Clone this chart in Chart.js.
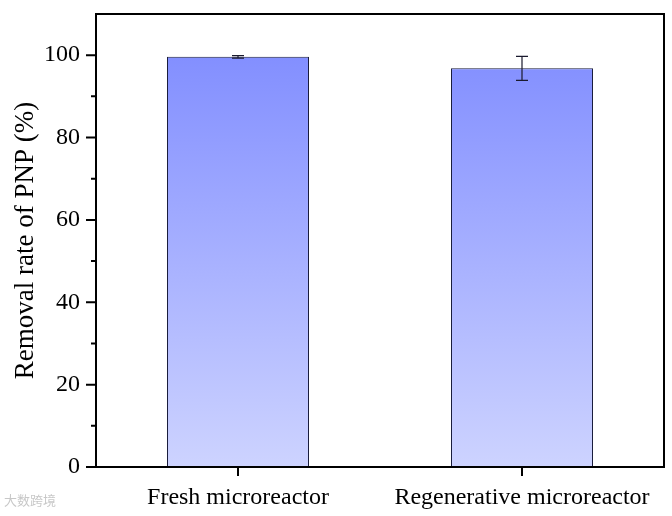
<!DOCTYPE html>
<html>
<head>
<meta charset="utf-8">
<script src="https://cdn.jsdelivr.net/npm/chart.js@4.4.0/dist/chart.umd.min.js"></script>
<style>
  body { margin: 0; background: #fff; }
  #wrap { position: relative; width: 672px; height: 516px; }
  #mark { position: absolute; left: 4px; top: 490px; font: 13px "Noto Sans CJK SC"; color: #c8c8c8; }
</style>
</head>
<body>
<div id="wrap">
  <canvas id="barChart" width="672" height="516"></canvas>
  <span id="mark">大数跨境</span>
</div>
<script>
const categories = ['Fresh microreactor', 'Regenerative microreactor'];
const removalRate = [99.6, 96.8];
const errors = [0.3, 2.9];
const yTicks = [0, 20, 40, 60, 80, 100];
const yMinorTicks = [10, 30, 50, 70, 90];

const serif = '"Liberation Serif", "Times New Roman", serif';

// error bars, plot frame and axis ticks
const decorPlugin = {
  id: 'decor',
  afterDatasetsDraw(chart) {
    const c = chart.ctx;
    const y = chart.scales.y;
    const meta = chart.getDatasetMeta(0);
    c.save();
    c.strokeStyle = '#1a1a2e';
    c.lineWidth = 1.2;
    meta.data.forEach((bar, i) => {
      const hi = y.getPixelForValue(removalRate[i] + errors[i]);
      const lo = y.getPixelForValue(removalRate[i] - errors[i]);
      c.beginPath();
      c.moveTo(bar.x, hi); c.lineTo(bar.x, lo);
      c.moveTo(bar.x - 6, hi); c.lineTo(bar.x + 6, hi);
      c.moveTo(bar.x - 6, lo); c.lineTo(bar.x + 6, lo);
      c.stroke();
    });
    c.restore();
  },
  afterDraw(chart) {
    const c = chart.ctx;
    const a = chart.chartArea;
    const y = chart.scales.y;
    const x = chart.scales.x;
    c.save();
    c.strokeStyle = '#000';
    c.lineWidth = 2;
    c.strokeRect(a.left, a.top, a.right - a.left, a.bottom - a.top);
    c.beginPath();
    yTicks.forEach(v => {
      const p = y.getPixelForValue(v);
      c.moveTo(a.left - 10, p); c.lineTo(a.left, p);
    });
    yMinorTicks.forEach(v => {
      const p = y.getPixelForValue(v);
      c.moveTo(a.left - 5, p); c.lineTo(a.left, p);
    });
    categories.forEach((_, i) => {
      const p = x.getPixelForValue(i);
      c.moveTo(p, a.bottom); c.lineTo(p, a.bottom + 9);
    });
    c.stroke();
    c.restore();
  }
};

const ctx = document.getElementById('barChart').getContext('2d');

new Chart(ctx, {
  type: 'bar',
  data: {
    labels: categories,
    datasets: [{
      data: removalRate,
      backgroundColor(context) {
        const area = context.chart.chartArea;
        if (!area) return '#8090ff';
        const g = context.chart.ctx.createLinearGradient(0, area.top, 0, area.bottom);
        g.addColorStop(0, '#7b88ff');
        g.addColorStop(1, '#cdd3ff');
        return g;
      },
      borderColor: '#1a1d3c',
      borderWidth: 1,
      barPercentage: 0.5,
      categoryPercentage: 1
    }]
  },
  options: {
    responsive: false,
    animation: false,
    layout: { padding: { top: 14, right: 8, left: 0, bottom: 0 } },
    plugins: { legend: { display: false }, tooltip: { enabled: false } },
    scales: {
      x: {
        grid: { display: false, drawTicks: false },
        border: { display: false },
        ticks: { color: '#000', padding: 16, font: { family: serif, size: 24 } },
        afterFit(scale) {
          scale.height = 49;
          scale.paddingLeft = 0;
          scale.paddingRight = 0;
        }
      },
      y: {
        min: 0,
        max: 110,
        grid: { display: false, drawTicks: false },
        border: { display: false },
        ticks: {
          stepSize: 20,
          color: '#000',
          padding: 16,
          font: { family: serif, size: 24 },
          callback: v => (v <= 100 ? v : '')
        },
        title: {
          display: true,
          text: 'Removal rate of PNP (%)',
          color: '#000',
          font: { family: serif, size: 27 },
          padding: { top: 10, bottom: 0 }
        },
        afterFit(scale) {
          scale.width = 96;
          scale.paddingTop = 0;
          scale.paddingBottom = 0;
        }
      }
    }
  },
  plugins: [decorPlugin]
});
</script>
</body>
</html>
